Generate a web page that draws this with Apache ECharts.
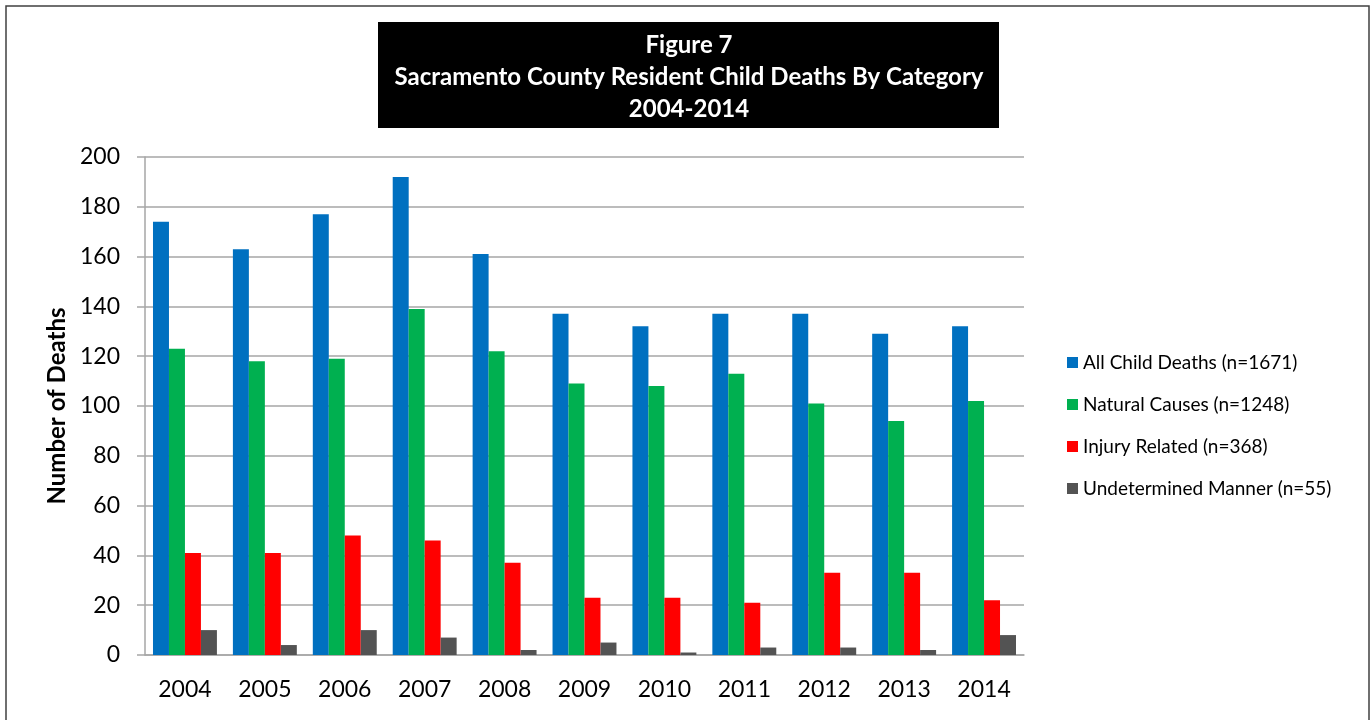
<!DOCTYPE html>
<html>
<head>
<meta charset="utf-8">
<script src="https://cdn.jsdelivr.net/npm/echarts@6/dist/echarts.min.js"></script>
<style>
  html, body { margin: 0; padding: 0; background: #fff; }
  #main { width: 1371px; height: 720px; }
</style>
</head>
<body>
<div id="main"></div>
<script>
const years = ['2004', '2005', '2006', '2007', '2008', '2009', '2010', '2011', '2012', '2013', '2014'];
const allDeaths = [174, 163, 177, 192, 161, 137, 132, 137, 137, 129, 132];
const naturalCauses = [123, 118, 119, 139, 122, 109, 108, 113, 101, 94, 102];
const injuryRelated = [41, 41, 48, 46, 37, 23, 23, 21, 33, 33, 22];
const undetermined = [10, 4, 10, 7, 2, 5, 1, 3, 3, 2, 8];
const seriesNames = [
  'All Child Deaths (n=1671)',
  'Natural Causes (n=1248)',
  'Injury Related (n=368)',
  'Undetermined Manner (n=55)'
];
const titleLines = ['Figure 7', 'Sacramento County Resident Child Deaths By Category', '2004-2014'];

const chart = echarts.init(document.getElementById('main'));
const font = 'Lato, "Open Sans", sans-serif';
const gridColor = '#A6A6A6';

function bar(name, data, color) {
  return {
    name: name,
    type: 'bar',
    data: data,
    barGap: '0%',
    barCategoryGap: '20%',
    itemStyle: { color: color }
  };
}

const option = {
  animation: false,
  textStyle: { fontFamily: font },
  graphic: [
    // frame round the whole chart
    {
      type: 'rect',
      shape: { x: 6, y: 6, width: 1363, height: 730 },
      style: { fill: 'none', stroke: '#404040', lineWidth: 1.5 },
      silent: true
    },
    // black title box
    {
      type: 'rect',
      shape: { x: 378, y: 22, width: 621, height: 106 },
      style: { fill: '#000' },
      silent: true
    }
  ],
  title: {
    text: titleLines.join('\n'),
    left: 684,
    textAlign: 'center',
    top: 24,
    textStyle: {
      color: '#fff',
      fontFamily: font,
      fontWeight: 'bold',
      fontSize: 24,
      lineHeight: 32
    }
  },
  legend: {
    orient: 'vertical',
    left: 1062,
    top: 348,
    itemWidth: 11,
    itemHeight: 11,
    itemGap: 23,
    icon: 'rect',
    textStyle: { color: '#000', fontSize: 19, lineHeight: 19, fontFamily: font },
    data: seriesNames
  },
  grid: {
    left: 145,
    right: 347,
    top: 157,
    bottom: 65
  },
  xAxis: {
    type: 'category',
    data: years,
    axisTick: { show: false },
    axisLine: { lineStyle: { color: gridColor, width: 1.5 } },
    axisLabel: { color: '#000', fontSize: 23, margin: 23, fontFamily: font }
  },
  yAxis: {
    type: 'value',
    min: 0,
    max: 200,
    interval: 20,
    name: 'Number of Deaths',
    nameLocation: 'middle',
    nameRotate: 90,
    nameGap: 74,
    nameTextStyle: { color: '#000', fontWeight: 'bold', fontSize: 24, fontFamily: font },
    axisLine: { show: true, lineStyle: { color: gridColor, width: 1.5 } },
    axisTick: { show: true, length: 8, lineStyle: { color: gridColor, width: 1.5 } },
    splitLine: { lineStyle: { color: gridColor, width: 1.5 } },
    axisLabel: { color: '#000', fontSize: 23, margin: 25, fontFamily: font }
  },
  series: [
    bar(seriesNames[0], allDeaths, '#0070C0'),
    bar(seriesNames[1], naturalCauses, '#00B050'),
    bar(seriesNames[2], injuryRelated, '#FF0000'),
    bar(seriesNames[3], undetermined, '#535353')
  ]
};

chart.setOption(option);
</script>
</body>
</html>
